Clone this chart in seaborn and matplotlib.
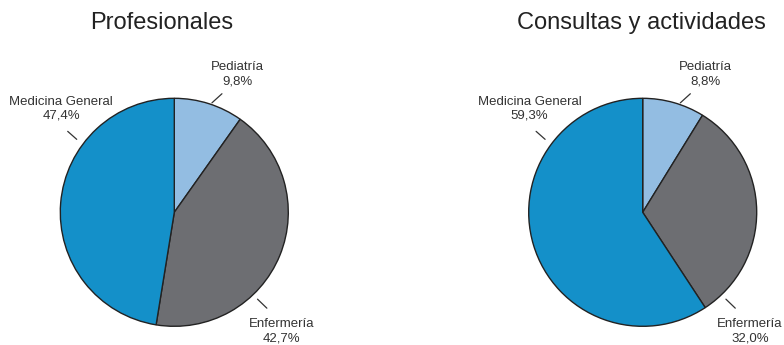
import matplotlib
matplotlib.use("Agg")
import matplotlib.pyplot as plt
import seaborn as sns

# ── data ────────────────────────────────────────────────────────────────
categories = ["Pediatría", "Enfermería", "Medicina General"]
profesionales = [9.8, 42.7, 47.4]
consultas = [8.8, 32.0, 59.3]
titles = ["Profesionales", "Consultas y actividades"]

colors = ["#93bde2", "#6d6e72", "#1490c9"]

sns.set_theme(style="white")
plt.rcParams["font.family"] = ["Liberation Sans", "DejaVu Sans"]

W, H = 784, 345
fig = plt.figure(figsize=(W / 100, H / 100), dpi=100)

# pie centres / radius in pixels
centres = [(174.3, 212.3), (642.7, 212.3)]
R = 114
title_x = [162, 641]

# label text position and tick line (in units of radius) per category
label_pos = {
    "Pediatría": ((0.553, 1.21), (0.33, 0.96), (0.418, 1.04)),
    "Enfermería": ((0.94, -1.043), (0.73, -0.762), (0.812, -0.841)),
    "Medicina General": ((-0.992, 0.907), (-0.935, 0.71), (-0.856, 0.64)),
}

for (cx, cy), values, title, tx in zip(centres, [profesionales, consultas], titles, title_x):
    ax = fig.add_axes([(cx - R) / W, (H - cy - R) / H, 2 * R / W, 2 * R / H])
    ax.pie(values, colors=colors, startangle=90, counterclock=False,
           radius=1, wedgeprops=dict(edgecolor="#222222", linewidth=1.0))
    ax.set_xlim(-1, 1)
    ax.set_ylim(-1, 1)
    ax.set_axis_off()
    for cat, v in zip(categories, values):
        (lx, ly), (x0, y0), (x1, y1) = label_pos[cat]
        ax.plot([x0, x1], [y0, y1], color="#333333", lw=0.9, clip_on=False)
        ax.text(lx, ly, f"{cat}\n{v:.1f}".replace(".", ",") + "%",
                ha="center", va="center", fontsize=9.5, color="#333333",
                linespacing=1.2, clip_on=False)
    fig.text(tx / W, 1 - 23 / H, title, ha="center", va="center",
             fontsize=17, color="#222222")

fig.savefig("out.png", dpi=100)
